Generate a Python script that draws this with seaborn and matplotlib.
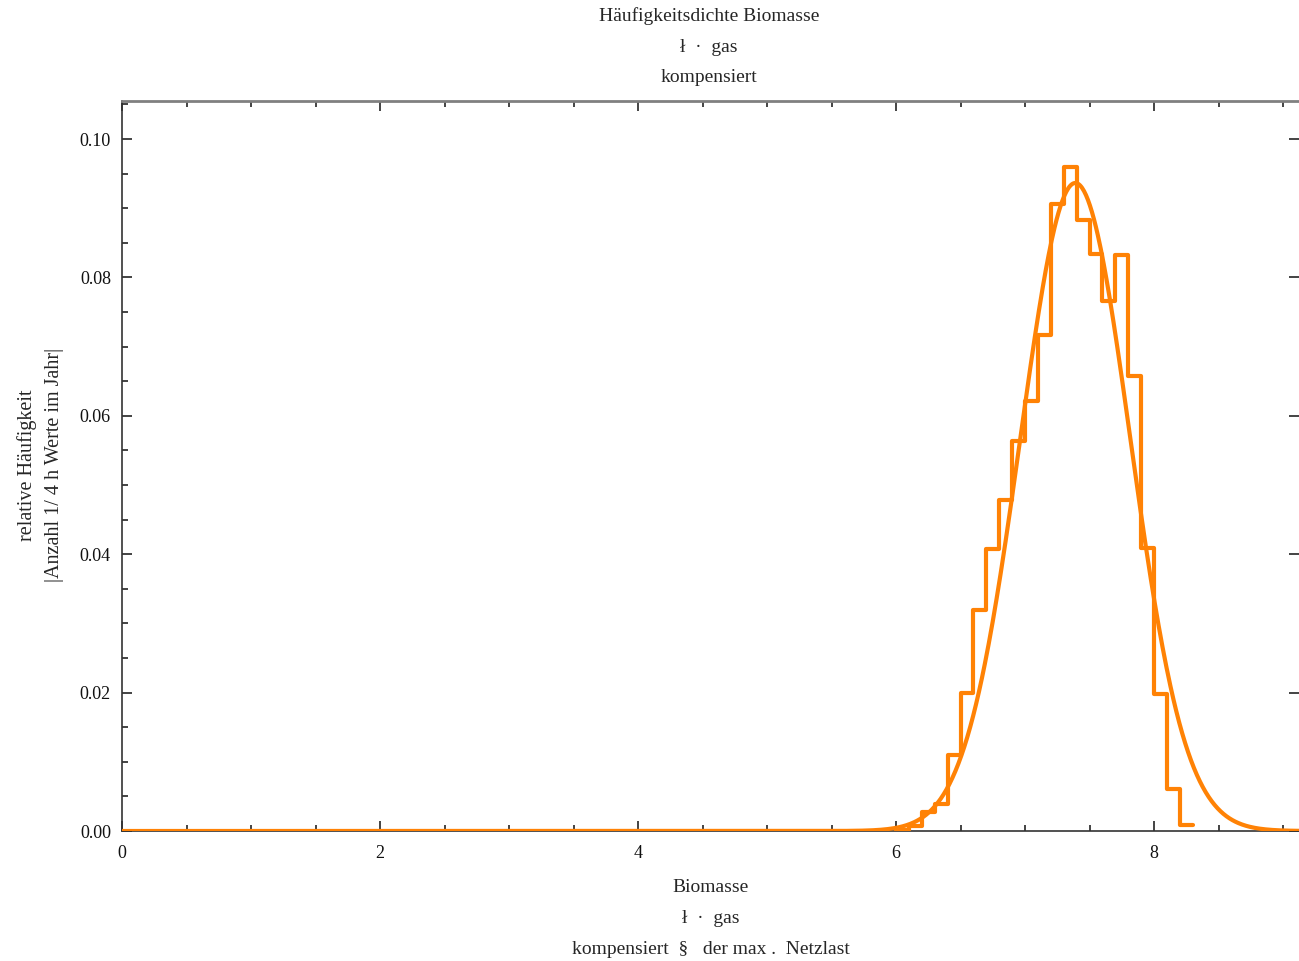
import numpy as np
import pandas as pd
import matplotlib
matplotlib.use("Agg")
import matplotlib.pyplot as plt
from matplotlib.ticker import MultipleLocator, FormatStrFormatter
import seaborn as sns

# Relative frequencies of the quarter-hour values per 0.1-wide class
bin_edges = [round(6.0 + 0.1 * i, 2) for i in range(24)]
rel_freq = [0.0002, 0.0007, 0.0027, 0.0039, 0.0110, 0.0200, 0.0320, 0.0407,
            0.0478, 0.0564, 0.0622, 0.0717, 0.0906, 0.0960, 0.0883, 0.0834,
            0.0766, 0.0832, 0.0657, 0.0409, 0.0198, 0.0061, 0.0009]
bin_centers = [(a + b) / 2 for a, b in zip(bin_edges[:-1], bin_edges[1:])]

# Fitted normal distribution (scaled to the class width)
fit_mean = 7.39
fit_std = 0.426
class_width = 0.1

x_max = 9.124
y_max = 0.1055

title_lines = ["Häufigkeitsdichte Biomasse", "ł  ·  gas", "kompensiert"]
xlabel_lines = ["Biomasse", "ł  ·  gas", "kompensiert  §   der max .  Netzlast"]
ylabel_lines = ["relative Häufigkeit", "|Anzahl 1/ 4 h Werte im Jahr|"]
x_ticks = [0, 2, 4, 6, 8]
y_ticks = [0.00, 0.02, 0.04, 0.06, 0.08, 0.10]

orange = "#FF8205"

sns.set_style("ticks")
plt.rcParams["font.family"] = ["Liberation Serif", "DejaVu Serif"]
plt.rcParams["xtick.direction"] = "in"
plt.rcParams["ytick.direction"] = "in"

fig = plt.figure(figsize=(12.99, 9.61), dpi=100)
ax = fig.add_axes([122 / 1299, 1 - 831 / 961, 1 - 122 / 1299, (831 - 101) / 961])

hist_df = pd.DataFrame({"value": bin_centers, "freq": rel_freq})
sns.histplot(data=hist_df, x="value", weights="freq", bins=bin_edges, element="step",
             fill=False, color=orange, linewidth=3, ax=ax, zorder=3)

xs = np.linspace(0, x_max, 1200)
pdf = class_width / (fit_std * np.sqrt(2 * np.pi)) * np.exp(-0.5 * ((xs - fit_mean) / fit_std) ** 2)
curve = pd.DataFrame({"x": xs, "y": pdf})
sns.lineplot(data=curve, x="x", y="y", color=orange, linewidth=3, ax=ax, zorder=3)

ax.set_xlim(0, x_max)
ax.set_ylim(0, y_max)
ax.set_xticks(x_ticks)
ax.set_yticks(y_ticks)
ax.xaxis.set_minor_locator(MultipleLocator(0.5))
ax.yaxis.set_minor_locator(MultipleLocator(0.005))
ax.yaxis.set_major_formatter(FormatStrFormatter("%.2f"))
ax.set_xlabel("")
ax.set_ylabel("")

ax.tick_params(axis="both", which="both", top=True, right=True,
               labelsize=13, pad=8, colors="#111111")
ax.tick_params(axis="both", which="major", length=7, width=1.1)
ax.tick_params(axis="both", which="minor", length=4, width=1.1)
ax.tick_params(axis="y", which="minor", right=False)
ax.tick_params(axis="x", which="major", pad=10)

for side in ["left", "bottom"]:
    ax.spines[side].set_visible(True)
    ax.spines[side].set_color("#333333")
    ax.spines[side].set_linewidth(1.2)
ax.spines["top"].set_visible(True)
ax.spines["top"].set_color("#808080")
ax.spines["top"].set_linewidth(2)
ax.spines["right"].set_visible(False)

for i, line in enumerate(title_lines):
    fig.text(709 / 1299, 1 - (16 + 31 * i) / 961, line, ha="center", va="center",
             fontsize=14)
for i, line in enumerate(xlabel_lines):
    fig.text(711 / 1299, 1 - (888 + 30.5 * i) / 961, line, ha="center", va="center",
             fontsize=14)
for i, line in enumerate(ylabel_lines):
    fig.text((27 + 28 * i) / 1299, 1 - 465 / 961, line, ha="center", va="center",
             rotation=90, fontsize=14.5)

fig.savefig("out.png", dpi=100)
